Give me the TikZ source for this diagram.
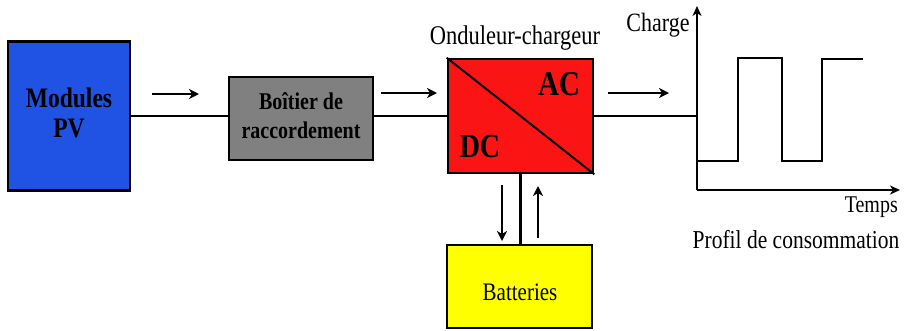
\documentclass[tikz,border=0pt]{standalone}
\usepackage{fontspec}
\usepackage{graphicx}
\setmainfont{Liberation Serif}
\usetikzlibrary{arrows.meta}
\newcommand\tall[1]{\scalebox{1}[1.2]{#1}}
\definecolor{pvblue}{RGB}{32,82,228}
\definecolor{boxgray}{RGB}{128,128,128}
\definecolor{ondred}{RGB}{250,20,20}
\definecolor{batyellow}{RGB}{255,255,0}
\tikzset{
  blockbox/.style={draw=black, line width=2.6pt, inner sep=0pt},
  wire/.style={line width=2.2pt},
  flow/.style={line width=2.2pt, -{Stealth[length=10pt,width=10pt,inset=3pt]}},
  axis/.style={line width=2.2pt, -{Stealth[length=10pt,width=9pt,inset=3pt]}},
  lbl/.style={inner sep=0pt}
}
\begin{document}
\begin{tikzpicture}[x=1pt,y=-1pt]
\useasboundingbox (0,0) rectangle (908,330);
% blocks
\node[blockbox, fill=pvblue, minimum width=122pt, minimum height=149pt] (pv) at (69,116) {};
\node[blockbox, fill=boxgray, minimum width=144pt, minimum height=83pt] (box) at (301,118.5) {};
\node[blockbox, fill=ondred, minimum width=145pt, minimum height=114pt] (ond) at (520.5,116) {};
\node[blockbox, fill=batyellow, minimum width=145pt, minimum height=83pt] (bat) at (519.5,286.5) {};
% diagonal in inverter
\draw[line width=2pt] (ond.north west) -- (ond.south east);
% block texts
\node[lbl] (pvt) at (69,116) {\tall{\fontsize{23.5}{25}\selectfont\bfseries\begin{tabular}{@{}c@{}}Modules\\PV\end{tabular}}};
\node[lbl] (boxt) at (301,118) {\tall{\fontsize{20}{24}\selectfont\bfseries\begin{tabular}{@{}c@{}}Boîtier de\\raccordement\end{tabular}}};
\node[lbl] (ac) at (559,84) {\tall{\fontsize{29}{30}\selectfont\bfseries AC}};
\node[lbl] (dc) at (480,147) {\tall{\fontsize{28}{30}\selectfont\bfseries DC}};
\node[lbl] (ondt) at (515,38) {\tall{\fontsize{22.5}{24}\selectfont Onduleur-chargeur}};
\node[lbl] (batt) at (520,292) {\tall{\fontsize{21}{24}\selectfont Batteries}};
% chart
\coordinate (o) at (697,190);
\coordinate (ytop) at (697,6);
\coordinate (xend) at (900,190);
\draw[axis] (o) -- (ytop);
\draw[axis] (o) -- (xend);
\coordinate (s0) at (697,161);
\coordinate (s1) at (738,161);
\coordinate (s2) at (738,58);
\coordinate (s3) at (782,58);
\coordinate (s4) at (782,161);
\coordinate (s5) at (822,161);
\coordinate (s6) at (822,59);
\coordinate (s7) at (863,59);
\draw[wire, line join=miter] (s0) -- (s1) -- (s2) -- (s3) -- (s4) -- (s5) -- (s6) -- (s7);
\node[lbl] (charge) at (658,25) {\tall{\fontsize{22}{24}\selectfont Charge}};
\node[lbl, anchor=east] (temps) at (898,207) {\tall{\fontsize{20}{24}\selectfont Temps}};
\node[lbl] (profil) at (796,240) {\tall{\fontsize{21.5}{24}\selectfont Profil de consommation}};
% wires
\draw[wire] (pv.east) -- (pv.east -| box.west);
\draw[wire] (box.east |- ond.west) -- (ond.west);
\draw[wire] (ond.east) -- (ond.east -| o);
\draw[wire] (ond.south) -- (ond.south |- bat.north);
% flow arrows
\coordinate (a1s) at (152,94); \coordinate (a1e) at (199,94);
\coordinate (a2s) at (381,93); \coordinate (a2e) at (437,93);
\coordinate (a3s) at (608,93); \coordinate (a3e) at (669,93);
\coordinate (a4s) at (502,185); \coordinate (a4e) at (502,241);
\coordinate (a5s) at (538,238); \coordinate (a5e) at (538,186);
\draw[flow] (a1s) -- (a1e);
\draw[flow] (a2s) -- (a2e);
\draw[flow] (a3s) -- (a3e);
\draw[flow] (a4s) -- (a4e);
\draw[flow] (a5s) -- (a5e);
\end{tikzpicture}
\end{document}
